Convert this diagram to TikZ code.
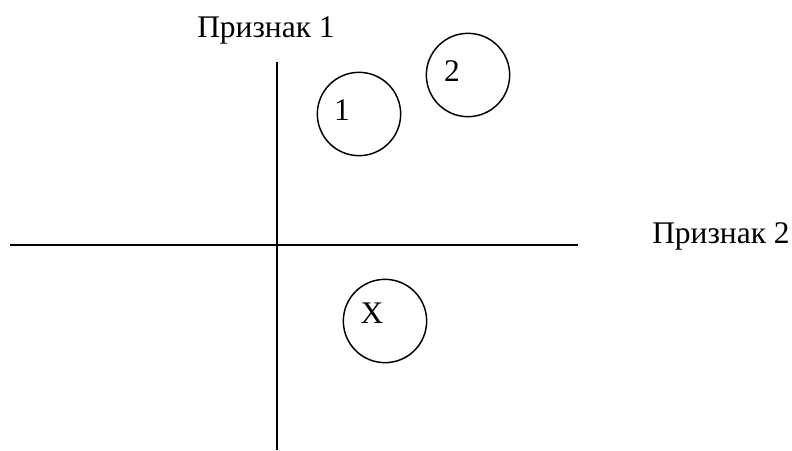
\documentclass[tikz,border=0pt]{standalone}
\usepackage{fontspec}
\setmainfont{Liberation Serif}
\usetikzlibrary{positioning}

\begin{document}
\begin{tikzpicture}[x=0.75pt, y=-0.75pt,
      axis/.style  = {line width=1.1pt},
      blob/.style  = {circle, draw, line width=1.1pt, minimum size=62.5pt, inner sep=0pt},
      lbl/.style   = {font=\fontsize{23.6}{26}\selectfont, inner sep=0pt}
    ]
    \useasboundingbox (0,0) rectangle (792,450);

    % axes
    \coordinate (vtop) at (277,62);
    \coordinate (vbot) at (277,450);
    \coordinate (hleft) at (10,245);
    \coordinate (hright) at (578,245);
    \draw[axis] (vtop) -- (vbot);
    \draw[axis] (hleft) -- (hright);

    \node[lbl, anchor=base west] (f1) at (197,37) {Признак 1};
    \node[lbl, anchor=base west] (f2) at (652,243) {Признак 2};

    % classes and the object
    \node[blob] (c1) at (359,114) {};
    \node[blob] (c2) at (468,75) {};
    \node[blob] (cx) at (385,321) {};
    \node[lbl] (t1) at (342,110) {1};
    \node[lbl] (t2) at (452,71) {2};
    \node[lbl] (tx) at (372,313) {X};
  \end{tikzpicture}
\end{document}
